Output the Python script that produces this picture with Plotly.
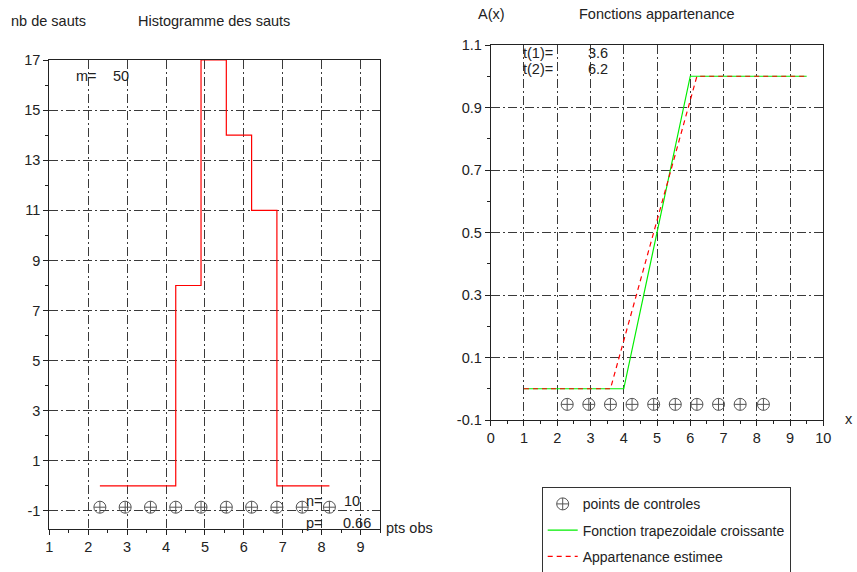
import plotly.graph_objects as go

# ---------------- data ----------------
ctrl_x = [2.3, 2.95, 3.6, 4.25, 4.9, 5.55, 6.2, 6.85, 7.5, 8.2]
ctrl_y_hist = [-0.85, -0.85, -0.85, -0.85, -0.85, -0.85, -0.85, -0.85, -0.85, -0.85]
hist_counts = [0, 0, 0, 8, 17, 14, 11, 0, 0, 0]
ctrl_y_app = [-0.05, -0.05, -0.05, -0.05, -0.05, -0.05, -0.05, -0.05, -0.05, -0.05]
trap_x = [1, 4, 6, 9.5]
trap_y = [0, 0, 1, 1]
est_x = [1, 3.6, 6.2, 9.5]
est_y = [0, 0, 1, 1]
left_yticks = [17, 15, 13, 11, 9, 7, 5, 3, 1, -1]
left_xticks = [1, 2, 3, 4, 5, 6, 7, 8, 9]
right_yticks = [1.1, 0.9, 0.7, 0.5, 0.3, 0.1, -0.1]
right_xticks = [0, 1, 2, 3, 4, 5, 6, 7, 8, 9, 10]

W, H = 857, 572
FONT = "Liberation Sans, Arial, sans-serif"
FS = 14.5
GRID = "#3a3a3a"
DASHDOT = "9px,3px,2px,3px"

fig = go.Figure()

# left: histogram
fig.add_trace(go.Scatter(x=ctrl_x, y=hist_counts, mode="lines", line=dict(color="#ff0000", width=1.2, shape="hv"),
                         showlegend=False, xaxis="x", yaxis="y", hoverinfo="skip"))
fig.add_trace(go.Scatter(x=ctrl_x, y=ctrl_y_hist, mode="markers",
                         marker=dict(symbol="circle-cross-open", size=12, color="#555555", line=dict(width=1)),
                         showlegend=False, xaxis="x", yaxis="y"))

# right: membership functions
fig.add_trace(go.Scatter(x=ctrl_x, y=ctrl_y_app, mode="markers", name="points de controles",
                         marker=dict(symbol="circle-cross-open", size=12, color="#555555", line=dict(width=1)),
                         xaxis="x2", yaxis="y2", legendgroup="a"))
fig.add_trace(go.Scatter(x=trap_x, y=trap_y, mode="lines", name="Fonction trapezoidale croissante",
                         line=dict(color="#00ee00", width=1.2), xaxis="x2", yaxis="y2", legendgroup="b"))
fig.add_trace(go.Scatter(x=est_x, y=est_y, mode="lines", name="Appartenance estimee",
                         line=dict(color="#ff0000", width=1.2, dash="5px,4px"), xaxis="x2", yaxis="y2", legendgroup="c"))


def px_x(p):
    return p / W


def px_y(p):
    return 1 - p / H


axis_common = dict(
    showline=True, linecolor="#222222", linewidth=1, mirror=True,
    ticks="outside", ticklen=5, tickcolor="#222222",
    showgrid=True, gridcolor=GRID, gridwidth=1, griddash=DASHDOT,
    zeroline=False, automargin=False, tickfont=dict(family=FONT, size=FS, color="#222222"),
)
minor_common = dict(ticklen=3, ticks="outside", tickcolor="#222222", showgrid=False)

fig.update_layout(
    width=W, height=H,
    margin=dict(l=0, r=0, t=0, b=0, autoexpand=False),
    paper_bgcolor="white", plot_bgcolor="white",
    font=dict(family=FONT, size=FS, color="#222222"),
    xaxis=dict(domain=[px_x(49.3), px_x(380)], range=[1, 9.5], anchor="y",
               tickmode="array", tickvals=left_xticks, ticktext=[str(v) for v in left_xticks],
               minor=dict(dtick=0.5, tick0=1, **minor_common), **axis_common),
    yaxis=dict(domain=[px_y(529), px_y(60)], range=[-1.72, 17], anchor="x",
               tickmode="array", tickvals=left_yticks, ticktext=[str(v) for v in left_yticks],
               minor=dict(dtick=1, tick0=0, **minor_common), **axis_common),
    xaxis2=dict(domain=[px_x(490.7), px_x(823.3)], range=[0, 10], anchor="y2",
                tickmode="array", tickvals=right_xticks, ticktext=[str(v) for v in right_xticks],
                minor=dict(dtick=0.5, tick0=0, **minor_common), **axis_common),
    yaxis2=dict(domain=[px_y(420), px_y(45)], range=[-0.1, 1.1], anchor="x2",
                tickmode="array", tickvals=right_yticks, ticktext=[str(v) for v in right_yticks],
                minor=dict(dtick=0.1, tick0=0, **minor_common), **axis_common),
    legend=dict(x=px_x(541.7), y=px_y(487.3), xanchor="left", yanchor="top",
                bordercolor="#333333", borderwidth=1, bgcolor="white",
                font=dict(family=FONT, size=14, color="#222222"),
                itemwidth=30, tracegroupgap=5, traceorder="grouped"),
    showlegend=True,
)

texts = [
    ("nb de sauts", 10, 21),
    ("Histogramme des sauts", 137, 21),
    ("m=", 75, 76),
    ("50", 112, 76),
    ("n=", 305, 501),
    ("10", 343, 501),
    ("p=", 305, 523),
    ("0.66", 342, 523),
    ("pts obs", 385, 528),
    ("A(x)", 477, 14),
    ("Fonctions appartenance", 578, 14),
    ("t(1)=", 522, 53),
    ("3.6", 587, 53),
    ("t(2)=", 522, 69),
    ("6.2", 587, 69),
    ("x", 844, 419),
]
for t, x, y in texts:
    fig.add_annotation(text=t, x=px_x(x), y=px_y(y), xref="paper", yref="paper",
                       xanchor="left", yanchor="middle", showarrow=False,
                       font=dict(family=FONT, size=FS, color="#222222"), borderpad=0)

fig.write_html("out.html", config={"displayModeBar": False},
               post_script="document.body.style.margin='0px';document.body.style.overflow='hidden';")
